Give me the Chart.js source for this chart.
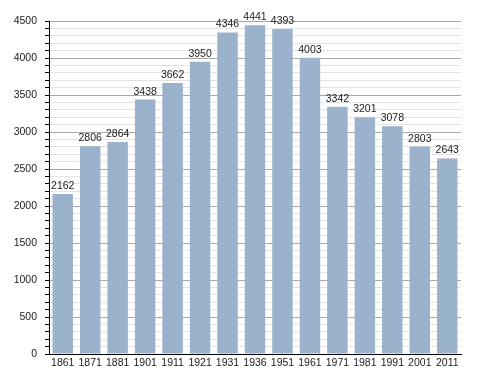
<!DOCTYPE html>
<html>
<head>
<meta charset="utf-8">
<script src="https://cdn.jsdelivr.net/npm/chart.js@4"></script>
<style>
  html, body { margin: 0; padding: 0; background: #fff; }
  #wrap { width: 488px; height: 373px; }
</style>
</head>
<body>
<div id="wrap"><canvas id="popChart" width="488" height="373"></canvas></div>
<script>
// census years and population
const years = ['1861', '1871', '1881', '1901', '1911', '1921', '1931', '1936',
               '1951', '1961', '1971', '1981', '1991', '2001', '2011'];
const population = [2162, 2806, 2864, 3438, 3662, 3950, 4346, 4441,
                    4393, 4003, 3342, 3201, 3078, 2803, 2643];
const yMax = 4500;
const yStep = 100;
const yMajor = 500;

const FONT = 'Liberation Sans, Arial, Helvetica, sans-serif';

// value labels on top of each bar
const barLabels = {
    id: 'barLabels',
    afterDatasetsDraw(chart) {
        const c = chart.ctx;
        const meta = chart.getDatasetMeta(0);
        c.save();
        c.font = '10.5px ' + FONT;
        c.fillStyle = '#1a1a1a';
        c.textAlign = 'center';
        c.textBaseline = 'alphabetic';
        meta.data.forEach((bar, i) => {
            c.fillText(String(population[i]), bar.x, bar.y - 5);
        });
        c.restore();
    }
};

new Chart(document.getElementById('popChart'), {
    type: 'bar',
    data: {
        labels: years,
        datasets: [{
            data: population,
            backgroundColor: '#9ab2cc',
            borderWidth: 0,
            barPercentage: 0.745,
            categoryPercentage: 1
        }]
    },
    options: {
        responsive: false,
        animation: false,
        layout: { padding: { top: 21, right: 27, left: 0, bottom: 0 } },
        plugins: {
            legend: { display: false },
            tooltip: { enabled: false }
        },
        scales: {
            x: {
                grid: { display: false, drawTicks: false },
                border: { display: true, color: '#000', width: 1 },
                ticks: {
                    color: '#1a1a1a',
                    font: { family: FONT, size: 10.5 },
                    padding: 3,
                    maxRotation: 0,
                    autoSkip: false
                },
                afterFit: s => { s.height = 19; }
            },
            y: {
                min: 0,
                max: yMax,
                grid: {
                    color: ctx => (ctx.tick && ctx.tick.value % yMajor === 0) ? '#a8a8a8' : '#e4e4e4',
                    tickColor: '#000',
                    tickLength: 4,
                    drawTicks: true
                },
                border: { display: true, color: '#000', width: 1 },
                ticks: {
                    stepSize: yStep,
                    autoSkip: false,
                    color: '#1a1a1a',
                    font: { family: FONT, size: 10.5 },
                    padding: 8,
                    callback: v => (v % yMajor === 0 ? v : '')
                },
                afterFit: s => { s.width = 49; }
            }
        }
    },
    plugins: [barLabels]
});
</script>
</body>
</html>
